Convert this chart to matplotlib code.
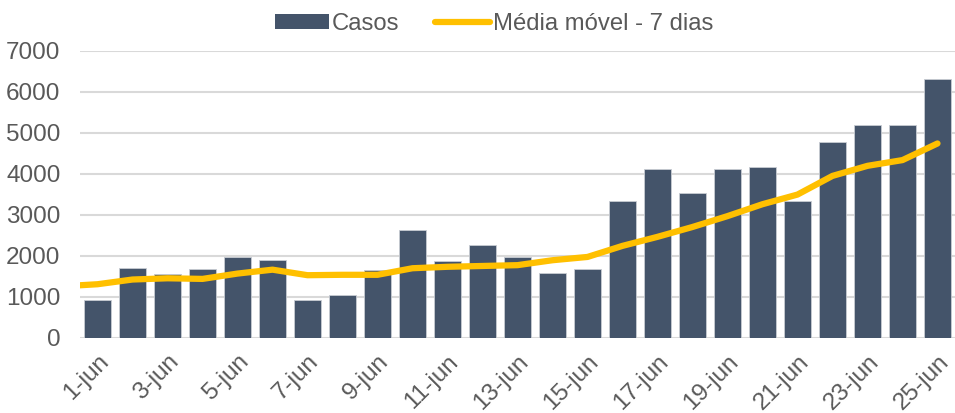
import numpy as np
import matplotlib.pyplot as plt
from matplotlib.lines import Line2D
from matplotlib.patches import Patch

plt.rcParams['font.family'] = ['Liberation Sans', 'DejaVu Sans']

# daily cases, 1-jun .. 25-jun
days = [f'{d}-jun' for d in range(1, 26)]
casos = [920, 1710, 1555, 1670, 1985, 1910, 920, 1040, 1650, 2635,
         1870, 2260, 1975, 1595, 1675, 3340, 4115, 3545, 4120, 4170,
         3350, 4780, 5190, 5190, 6310]

# 7-day moving average; first value is 31-may (falls just outside the axis)
media_movel = [1260, 1310, 1425, 1455, 1440, 1570, 1665, 1530, 1540, 1540,
               1700, 1735, 1755, 1775, 1895, 1975, 2245, 2465, 2705,
               2970, 3260, 3495, 3950, 4195, 4335, 4740]

bar_color = '#44546a'
line_color = '#ffc000'
text_color = '#595959'
grid_color = '#d9d9d9'

fig = plt.figure(figsize=(9.55, 4.13), dpi=100)
ax = fig.add_axes([0.0838, 0.1816, 0.9162, 0.6956])

x = np.arange(len(days))
ax.bar(x, casos, width=0.76, color=bar_color, edgecolor='#c8ccd3',
       linewidth=0.6, zorder=2)

x_line = np.arange(-1, len(days))
ax.plot(x_line, media_movel, color=line_color, linewidth=4.5,
        solid_capstyle='round', solid_joinstyle='round', zorder=3)

ax.set_xlim(-0.5, 24.5)
ax.set_ylim(0, 7000)
ax.set_yticks(np.arange(0, 7001, 1000))
ax.yaxis.grid(True, color=grid_color, linewidth=1.5, zorder=0)
ax.set_axisbelow(True)
for s in ax.spines.values():
    s.set_visible(False)

ax.set_xticks(x[::2])
ax.set_xticklabels(days[::2], rotation=45, ha='right', rotation_mode='anchor')
ax.tick_params(axis='both', length=0, labelsize=17.5, colors=text_color)
ax.tick_params(axis='y', pad=14)
ax.tick_params(axis='x', pad=9)

handles = [Patch(facecolor=bar_color, edgecolor='none'),
           Line2D([0], [0], color=line_color, linewidth=4.5,
                  solid_capstyle='round')]
leg = fig.legend(handles, ['Casos', 'Média móvel - 7 dias'], loc='center',
                 bbox_to_anchor=(0.517, 0.942), ncol=2, frameon=False,
                 fontsize=17.2, handlelength=2.3, handleheight=0.6,
                 handletextpad=0.1, columnspacing=1.5)
for t in leg.get_texts():
    t.set_color(text_color)

fig.savefig('out.png', dpi=100)
